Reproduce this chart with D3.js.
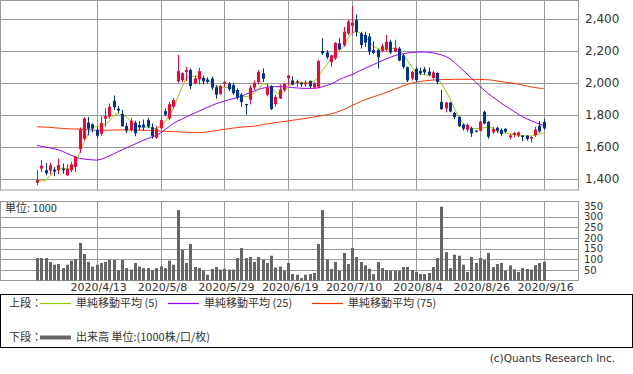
<!DOCTYPE html>
<html>
<head>
<meta charset="utf-8">
<script src="https://cdn.jsdelivr.net/npm/d3@7/dist/d3.min.js"></script>
<style>
  body { margin: 0; background: #fff; }
  svg { display: block; }
  text { font-family: "DejaVu Sans", sans-serif; fill: #333; }
  .jp { font-family: "Noto Sans CJK JP", sans-serif; }
</style>
</head>
<body>
<div id="chart"></div>
<script>
// daily candles, index 0 = first trading day shown
const opens = [
  1373,1462,1452,1450,1456,1452,1462,1420,1452,1473,
  1584,1650,1750,1740,1705,1680,1775,1787,1887,1838,
  1805,1730,1704,1750,1735,1738,1766,1722,1657,1715,
  1822,1776,1850,2010,2017,2068,2080,1996,2021,2030,
  2020,2027,1972,1930,1995,1995,1985,1955,1925,1867,
  1895,1970,2005,2060,1925,1980,1866,1902,1955,2030,
  2015,2000,2000,1990,2012,1970,1975,2200,2190,2130,
  2153,2247,2237,2310,2357,2393,2310,2300,2290,2205,
  2207,2200,2210,2257,2195,2215,2172,2098,2027,2088,
  2075,2085,2070,2030,2062,1880,1840,1876,1812,1787,
  1738,1705,1715,1700,1700,1818,1755,1690,1718,1705,
  1712,1658,1675,1670,1668,1668,1650,1672,1730,1755
];
const highs = [
  1453,1515,1497,1500,1471,1525,1494,1490,1505,1542,
  1720,1785,1785,1745,1720,1790,1840,1870,1920,1855,
  1830,1750,1780,1762,1760,1770,1780,1745,1730,1790,
  1840,1880,1905,2175,2065,2100,2090,2045,2095,2045,
  2035,2040,1985,1985,2010,2005,2000,1965,1935,1868,
  1985,2015,2080,2090,1993,1985,1925,1990,2000,2050,
  2040,2020,2005,2015,2015,2005,2142,2280,2205,2175,
  2255,2280,2350,2395,2480,2430,2320,2320,2310,2260,
  2210,2245,2300,2270,2270,2225,2180,2102,2075,2098,
  2095,2100,2095,2075,2065,1955,1880,1880,1818,1790,
  1745,1743,1725,1705,1760,1825,1760,1725,1725,1715,
  1715,1680,1692,1695,1672,1672,1665,1725,1760,1775
];
const lows = [
  1358,1442,1420,1425,1415,1427,1431,1415,1440,1440,
  1560,1640,1670,1690,1655,1668,1725,1775,1830,1810,
  1725,1685,1692,1665,1705,1700,1715,1650,1648,1700,
  1790,1765,1840,2000,2005,2010,1960,1990,1990,1990,
  1995,1955,1900,1925,1975,1950,1925,1895,1850,1800,
  1865,1955,1990,2005,1915,1830,1850,1898,1945,1985,
  1985,1975,1975,1975,1968,1962,1965,2175,2150,2100,
  2143,2205,2225,2300,2310,2290,2215,2225,2175,2180,
  2090,2190,2195,2180,2190,2135,2090,2005,2015,2005,
  2050,2050,2040,2020,1990,1830,1815,1815,1772,1722,
  1700,1690,1660,1690,1695,1740,1650,1680,1685,1665,
  1685,1645,1658,1660,1635,1637,1625,1660,1688,1705
];
const closes = [
  1390,1480,1433,1483,1444,1484,1452,1460,1488,1536,
  1707,1776,1712,1713,1668,1748,1790,1850,1847,1826,
  1728,1700,1762,1683,1720,1720,1725,1665,1712,1766,
  1800,1866,1892,2073,2060,2080,1980,2028,2073,2010,
  2005,1970,1925,1980,2005,1960,1935,1905,1880,1860,
  1970,2000,2068,2025,1970,1835,1912,1958,1992,2045,
  1988,2010,1990,2000,1978,1995,2137,2185,2160,2172,
  2250,2210,2320,2383,2377,2318,2237,2252,2195,2188,
  2160,2230,2257,2190,2220,2140,2100,2015,2068,2017,
  2060,2065,2050,2065,2005,1835,1876,1820,1785,1728,
  1712,1735,1683,1693,1757,1745,1662,1710,1700,1680,
  1693,1670,1685,1688,1660,1648,1660,1707,1695,1714
];
// moving averages as drawn on the chart
const ma5 = [
  1390,1385,1388,1415,1440,1462,1465,1462,1468,1490,
  1560,1625,1680,1718,1728,1725,1740,1762,1795,1808,
  1800,1785,1760,1735,1725,1722,1722,1715,1712,1728,
  1752,1795,1840,1905,1970,2030,2040,2042,2040,2030,
  2020,2000,1980,1972,1972,1971,1965,1944,1920,1913,
  1918,1935,1960,1995,1990,1970,1940,1930,1945,1975,
  1995,2005,2003,2000,2002,2010,2034,2080,2110,2150,
  2185,2200,2226,2280,2315,2320,2312,2290,2260,2230,
  2215,2210,2210,2212,2216,2205,2180,2140,2100,2065,
  2055,2050,2048,2042,2030,1996,1950,1900,1840,1790,
  1748,1725,1714,1712,1714,1718,1724,1716,1700,1690,
  1684,1680,1676,1672,1670,1667,1666,1672,1680,1687
];
const ma25 = [
  1607,1602,1597,1592,1587,1580,1570,1558,1546,1535,
  1527,1522,1519,1517,1515,1520,1530,1542,1555,1568,
  1580,1592,1604,1616,1628,1640,1650,1660,1670,1685,
  1705,1725,1745,1760,1772,1785,1798,1810,1822,1834,
  1846,1857,1868,1877,1885,1893,1900,1907,1915,1928,
  1938,1948,1958,1966,1972,1975,1976,1976,1975,1973,
  1970,1968,1966,1965,1965,1965,1968,1975,1983,1992,
  2005,2020,2032,2042,2052,2065,2078,2090,2102,2114,
  2126,2138,2150,2160,2170,2177,2182,2187,2190,2192,
  2193,2193,2191,2188,2182,2175,2165,2150,2130,2105,
  2080,2055,2030,2005,1980,1955,1932,1912,1893,1873,
  1855,1838,1820,1803,1788,1775,1763,1752,1741,1732
];
const ma75 = [
  1724,1723,1722,1721,1718,1716,1714,1712,1711,1710,
  1709,1707,1705,1704,1702,1702,1703,1703,1704,1704,
  1705,1705,1704,1703,1703,1702,1702,1700,1698,1697,
  1696,1695,1694,1693,1691,1690,1689,1688,1688,1689,
  1692,1696,1700,1704,1708,1712,1716,1719,1722,1724,
  1726,1728,1732,1737,1742,1746,1750,1754,1757,1761,
  1765,1769,1773,1777,1781,1786,1790,1795,1799,1805,
  1812,1822,1832,1845,1858,1870,1882,1893,1903,1912,
  1921,1930,1940,1950,1960,1970,1980,1990,1998,2004,
  2008,2012,2015,2017,2019,2020,2021,2021,2022,2022,
  2022,2022,2022,2021,2021,2020,2019,2016,2012,2008,
  2004,2000,1997,1992,1986,1980,1975,1970,1966,1965
];
// volume, unit 1000
const volumes = [
  106,106,106,88,75,78,59,75,94,102,
  177,125,88,66,75,83,88,97,97,50,
  97,59,52,83,66,59,59,50,59,67,
  59,94,75,331,145,83,172,64,59,47,
  28,55,64,52,56,52,52,106,153,106,
  111,88,111,98,83,117,62,66,47,83,
  31,28,12,28,31,36,172,331,100,55,
  88,47,130,78,153,111,88,72,56,31,
  88,59,50,47,47,47,64,64,50,41,
  31,31,36,64,106,347,134,59,122,117,
  75,41,111,83,106,97,130,64,78,83,
  47,72,53,41,59,55,52,73,83,88
];
const dateTicks = ['2020/4/13', '2020/5/8', '2020/5/29', '2020/6/19', '2020/7/10', '2020/8/4', '2020/8/26', '2020/9/16'];
const dateTickIdx = [14, 29, 44, 59, 74, 89, 104, 119];
const priceTicks = [1400, 1600, 1800, 2000, 2200, 2400];
const volTicks = [50, 100, 150, 200, 250, 300, 350];

const W = 633, H = 374;
const plotW = 579;
const pricePanel = { y0: 0, y1: 190 };
const volPanel = { y0: 201, y1: 280.5 };
const upColor = '#ff0033', downColor = '#003399';
const gridColor = '#999999';

const svg = d3.select('#chart').append('svg')
  .attr('width', W)
  .attr('height', H);

const x = d3.scaleLinear().domain([-8.7, 127.3]).range([0, plotW]);
const y = d3.scaleLinear().domain([1400, 2400]).range([178.5, 19]);
const yv = d3.scaleLinear().domain([0, 350]).range([280.7, 206]);
const crisp = v => Math.round(v) + 0.5;

// ---- grid / frames
const grid = svg.append('g').attr('stroke', gridColor).attr('stroke-width', 1).attr('fill', 'none');
grid.append('g').selectAll('line').data(priceTicks).join('line')
  .attr('x1', 0).attr('x2', plotW)
  .attr('y1', d => crisp(y(d))).attr('y2', d => crisp(y(d)));
grid.append('g').selectAll('line').data(volTicks.filter(v => v < 350)).join('line')
  .attr('x1', 0).attr('x2', plotW)
  .attr('y1', d => crisp(yv(d))).attr('y2', d => crisp(yv(d)));
[pricePanel, volPanel].forEach(p => {
  grid.append('g').selectAll('line').data(dateTickIdx).join('line')
    .attr('x1', d => crisp(x(d))).attr('x2', d => crisp(x(d)))
    .attr('y1', p.y0).attr('y2', p.y1);
  grid.append('rect')
    .attr('x', 0.5).attr('y', p.y0 + 0.5)
    .attr('width', plotW - 1).attr('height', p.y1 - p.y0 - 0.5);
});

// ---- moving averages (drawn under candles)
const line = d3.line().x((d, i) => x(i)).y(d => y(d));
[[ma75, '#ff3300'], [ma25, '#9900ff'], [ma5, '#99cc00']].forEach(([data, color]) => {
  svg.append('path')
    .datum(data)
    .attr('fill', 'none')
    .attr('stroke', color)
    .attr('stroke-width', 1)
    .attr('d', line);
});

// ---- candles
const candles = svg.append('g').selectAll('g').data(opens).join('g')
  .attr('fill', (d, i) => closes[i] >= d ? upColor : downColor)
  .attr('stroke', (d, i) => closes[i] >= d ? upColor : downColor);
candles.append('line')
  .attr('x1', (d, i) => crisp(x(i))).attr('x2', (d, i) => crisp(x(i)))
  .attr('y1', (d, i) => y(highs[i])).attr('y2', (d, i) => y(lows[i]))
  .attr('stroke-width', 1);
candles.append('rect')
  .attr('stroke', 'none')
  .attr('x', (d, i) => Math.round(x(i)) - 1)
  .attr('width', 3)
  .attr('y', (d, i) => y(Math.max(d, closes[i])))
  .attr('height', (d, i) => Math.max(1, Math.abs(y(d) - y(closes[i]))));

// ---- volume bars
svg.append('g').attr('fill', '#666666').selectAll('rect').data(volumes).join('rect')
  .attr('x', (d, i) => Math.round(x(i)) - 1)
  .attr('width', 3)
  .attr('y', d => yv(d))
  .attr('height', d => Math.min(volPanel.y1, yv(0)) - yv(d));

// ---- axis labels
svg.append('g').selectAll('text').data(priceTicks).join('text')
  .attr('x', 585).attr('y', d => y(d))
  .attr('dy', '0.36em')
  .attr('font-size', 12)
  .text(d => d3.format(',')(d));
svg.append('g').selectAll('text').data(volTicks).join('text')
  .attr('x', 584).attr('y', d => yv(d))
  .attr('dy', '0.36em')
  .attr('font-size', 10)
  .text(d => d);
svg.append('g').selectAll('text').data(dateTicks).join('text')
  .attr('x', (d, i) => x(dateTickIdx[i]) + 2)
  .attr('y', 287.5)
  .attr('dy', '0.36em')
  .attr('text-anchor', 'middle')
  .attr('font-size', 11)
  .text(d => d);
svg.append('text').attr('class', 'jp')
  .attr('x', 5).attr('y', 208).attr('dy', '0.36em')
  .attr('font-size', 11).attr('fill', '#222')
  .text('単位: 1000');

// ---- legend
const lg = svg.append('g');
lg.append('rect')
  .attr('x', 0.5).attr('y', 294.5).attr('width', 632).attr('height', 53)
  .attr('fill', 'none').attr('stroke', '#000');
const legendRows = [
  { y: 303, label: '上段：', items: [
    { x1: 40, x2: 71, color: '#99cc00', w: 1.2, tx: 76, text: '単純移動平均 (5)' },
    { x1: 168, x2: 199, color: '#9900ff', w: 1.2, tx: 204, text: '単純移動平均 (25)' },
    { x1: 312, x2: 343, color: '#ff3300', w: 1.2, tx: 348, text: '単純移動平均 (75)' }
  ]},
  { y: 337, label: '下段：', items: [
    { x1: 40, x2: 71, color: '#666666', w: 4, tx: 76, text: '出来高 単位:(1000株/口/枚)' }
  ]}
];
legendRows.forEach(r => {
  lg.append('text').attr('class', 'jp')
    .attr('x', 9).attr('y', r.y).attr('dy', '0.36em')
    .attr('font-size', 11).attr('fill', '#111')
    .text(r.label);
  r.items.forEach(it => {
    lg.append('line')
      .attr('x1', it.x1).attr('x2', it.x2)
      .attr('y1', r.y + 0.5).attr('y2', r.y + 0.5)
      .attr('stroke', it.color).attr('stroke-width', it.w);
    lg.append('text').attr('class', 'jp')
      .attr('x', it.tx).attr('y', r.y).attr('dy', '0.36em')
      .attr('font-size', 11).attr('fill', '#111')
      .text(it.text);
  });
});

svg.append('text')
  .attr('x', 615).attr('y', 358).attr('dy', '0.36em')
  .attr('text-anchor', 'end')
  .attr('font-size', 10.5).attr('fill', '#555')
  .text('(c)Quants Research Inc.');
</script>
</body>
</html>
